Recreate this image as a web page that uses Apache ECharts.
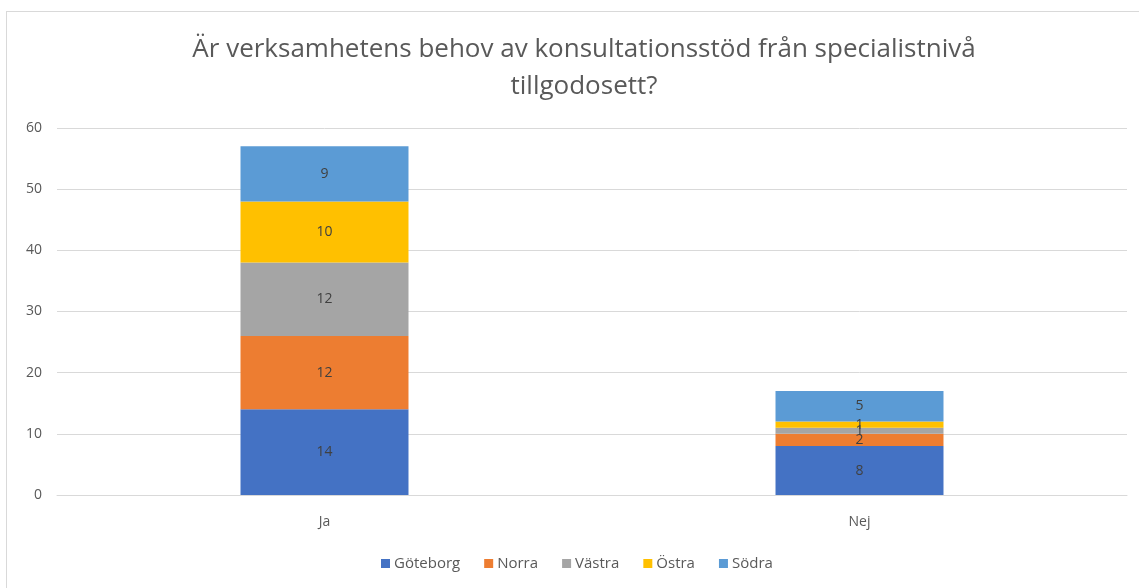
<!DOCTYPE html>
<html>
<head>
<meta charset="UTF-8">
<title>Konsultationsstöd</title>
<script src="https://cdn.jsdelivr.net/npm/echarts@6/dist/echarts.min.js"></script>
<style>
	html, body { margin: 0; padding: 0; background: #fff; }
	#frame { position: absolute; left: 6px; top: 11px; width: 1200px; height: 700px; border: 1px solid #d9d9d9; }
	#main { position: absolute; left: 0; top: 0; width: 1139px; height: 588px; }
</style>
</head>
<body>
	<div id="frame"></div>
	<div id="main"></div>
	<script type="text/javascript">
		var categories = [ 'Ja', 'Nej' ];
		var goteborg = [ 14, 8 ];
		var norra = [ 12, 2 ];
		var vastra = [ 12, 1 ];
		var ostra = [ 10, 1 ];
		var sodra = [ 9, 5 ];
		var yTicks = [ 0, 10, 20, 30, 40, 50, 60 ];

		var seriesNames = [ 'Göteborg', 'Norra', 'Västra', 'Östra', 'Södra' ];
		var seriesData = [ goteborg, norra, vastra, ostra, sodra ];
		var colors = [ '#4472C4', '#ED7D31', '#A5A5A5', '#FFC000', '#5B9BD5' ];

		var chart = echarts.init(document.getElementById('main'));
		chart.setOption({
			color : colors,
			title : {
				text : 'Är verksamhetens behov av konsultationsstöd från specialistnivå\ntillgodosett?',
				left : 579,
				textAlign : 'center',
				top : 26,
				textStyle : {
					fontFamily : 'Open Sans, sans-serif',
					fontWeight : 'normal',
					fontSize : 26,
					lineHeight : 37,
					color : '#595959'
				}
			},
			legend : {
				data : seriesNames,
				bottom : 12,
				left : 376,
				itemWidth : 9,
				itemHeight : 9,
				itemGap : 24,
				icon : 'rect',
				textStyle : {
					fontFamily : 'Open Sans, sans-serif',
					fontSize : 15,
					color : '#595959',
					padding : [ 0, 0, 0, -1 ]
				}
			},
			grid : {
				left : 57,
				right : 12,
				top : 128,
				bottom : 93
			},
			xAxis : {
				type : 'category',
				data : categories,
				axisTick : { show : false },
				axisLine : { lineStyle : { color : '#d9d9d9' } },
				axisLabel : {
					margin : 20,
					fontFamily : 'Open Sans, sans-serif',
					fontSize : 14,
					color : '#595959'
				}
			},
			yAxis : {
				type : 'value',
				min : yTicks[0],
				max : yTicks[yTicks.length - 1],
				interval : 10,
				axisLine : { show : false },
				axisTick : { show : false },
				splitLine : { lineStyle : { color : '#d9d9d9' } },
				axisLabel : {
					margin : 15,
					fontFamily : 'Open Sans, sans-serif',
					fontSize : 14,
					color : '#595959'
				}
			},
			series : seriesNames.map(function(name, i) {
				return {
					name : name,
					type : 'bar',
					stack : 'total',
					barWidth : '31.4%',
					data : seriesData[i],
					label : {
						show : true,
						position : 'inside',
						fontFamily : 'Open Sans, sans-serif',
						fontSize : 14,
						color : '#404040'
					}
				};
			})
		});
	</script>
</body>
</html>
